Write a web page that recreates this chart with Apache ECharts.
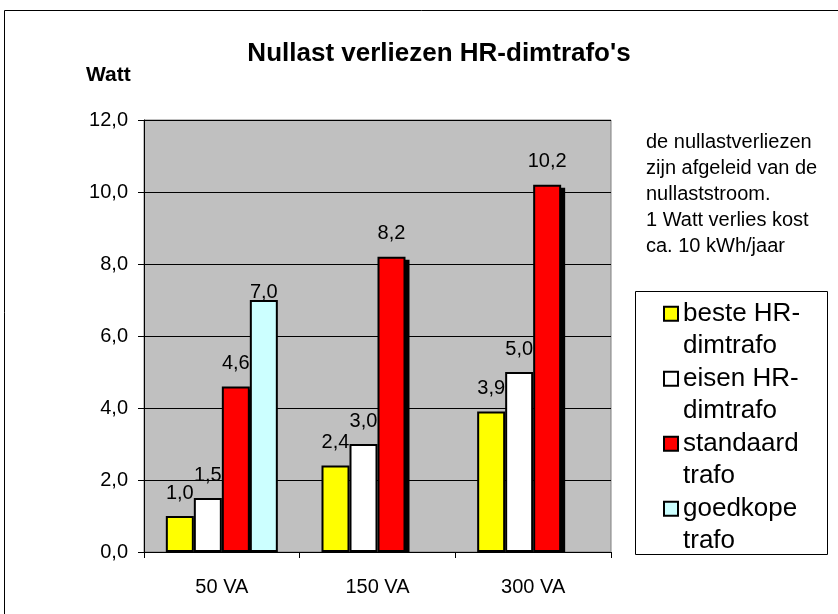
<!DOCTYPE html>
<html>
<head>
<meta charset="utf-8">
<script src="https://cdn.jsdelivr.net/npm/echarts@6/dist/echarts.min.js"></script>
<style>
html,body{margin:0;padding:0;background:#fff;}
#chart{width:838px;height:614px;}
</style>
</head>
<body>
<div id="chart"></div>
<script>
// ---- data ----
const categories = ['50 VA', '150 VA', '300 VA'];
const seriesNames = ['beste HR-dimtrafo', 'eisen HR-dimtrafo', 'standaard trafo', 'goedkope trafo'];
const legendLabels = ['beste HR-\ndimtrafo', 'eisen HR-\ndimtrafo', 'standaard\ntrafo', 'goedkope\ntrafo'];
const besteHR = [1.0, 2.4, 3.9];
const eisenHR = [1.5, 3.0, 5.0];
const standaard = [4.6, 8.2, 10.2];
const goedkope = [7.0, null, null];
const yMin = 0, yMax = 12, yStep = 2;
const titleText = "Nullast verliezen HR-dimtrafo's";
const yAxisTitle = 'Watt';
const noteLines = ['de nullastverliezen', 'zijn afgeleid van de', 'nullaststroom.', '1 Watt verlies kost', 'ca. 10 kWh/jaar'];

// ---- styling ----
const colors = ['#ffff00', '#ffffff', '#ff0000', '#ccffff'];
const fontFam = 'Liberation Sans, Arial, sans-serif';
const BAR_W = 28;
const fmt = v => (v == null ? '' : Number(v).toFixed(1).replace('.', ','));

const values = [besteHR, eisenHR, standaard, goedkope];
const barSeries = seriesNames.map((name, i) => ({
  name: name,
  type: 'bar',
  data: values[i],
  barWidth: BAR_W,
  barGap: '0%',
  itemStyle: {color: colors[i], borderColor: '#000', borderWidth: 2},
  label: {
    show: true,
    position: 'top',
    distance: i === 3 ? -2 : 13,
    color: '#000',
    fontFamily: fontFam,
    fontSize: 20,
    formatter: p => fmt(p.value)
  },
  emphasis: {disabled: true}
}));

// drop shadow behind the "standaard trafo" bars (3rd bar of each group)
const shadowSeries = {
  name: 'shadow',
  type: 'custom',
  silent: true,
  data: standaard.map((v, i) => [i, v]),
  renderItem: (params, api) => {
    const top = api.coord([api.value(0), api.value(1)]);
    const base = api.coord([api.value(0), 0]);
    return {
      type: 'rect',
      shape: {x: top[0] + 4, y: top[1] + 3, width: BAR_W, height: base[1] - top[1] - 3},
      style: {fill: '#000'}
    };
  }
};

const chart = echarts.init(document.getElementById('chart'), null, {renderer: 'canvas'});
chart.setOption({
  animation: false,
  backgroundColor: '#fff',
  title: [
    {
      text: titleText,
      left: 434, top: 36, textAlign: 'center',
      textStyle: {fontFamily: fontFam, fontSize: 26, fontWeight: 'bold', color: '#000'}
    },
    {
      text: yAxisTitle,
      left: 81, top: 60,
      textStyle: {fontFamily: fontFam, fontSize: 21, fontWeight: 'bold', color: '#000'}
    },
    {
      text: noteLines.join('\n'),
      left: 641, top: 124,
      textStyle: {fontFamily: fontFam, fontSize: 20, fontWeight: 'normal', lineHeight: 26, color: '#000'}
    }
  ],
  graphic: [
    {type: 'rect', shape: {x: 4.5, y: 10.5, width: 900, height: 700}, style: {fill: 'none', stroke: '#000', lineWidth: 1}, silent: true, z: -1},
    {type: 'rect', shape: {x: 635.5, y: 291.5, width: 192, height: 263}, style: {fill: '#fff', stroke: '#000', lineWidth: 1}, silent: true, z: 0}
  ],
  legend: {
    orient: 'vertical',
    left: 663, top: 265,
    padding: 0,
    itemGap: -32.5,
    itemWidth: 14, itemHeight: 14,
    icon: 'rect',
    itemStyle: {borderColor: '#000', borderWidth: 2},
    z: 5,
    textStyle: {fontFamily: fontFam, fontSize: 26, lineHeight: 32.5, color: '#000'},
    formatter: name => ' \n' + legendLabels[seriesNames.indexOf(name)],
    data: seriesNames
  },
  grid: {
    left: 144, right: 227, top: 120, bottom: 62,
    show: true, backgroundColor: '#c0c0c0', borderColor: '#808080', borderWidth: 1
  },
  xAxis: {
    type: 'category',
    data: categories,
    axisLine: {lineStyle: {color: '#000', width: 1}},
    axisTick: {show: true, length: 6, lineStyle: {color: '#000'}},
    axisLabel: {color: '#000', fontFamily: fontFam, fontSize: 20, margin: 25},
    splitLine: {show: false}
  },
  yAxis: {
    type: 'value',
    min: yMin, max: yMax, interval: yStep,
    axisLine: {show: true, lineStyle: {color: '#000', width: 1}},
    axisTick: {show: true, length: 6, lineStyle: {color: '#000'}},
    axisLabel: {color: '#000', fontFamily: fontFam, fontSize: 20, margin: 16, formatter: v => fmt(v)},
    splitLine: {show: true, lineStyle: {color: '#000', width: 1}}
  },
  series: [shadowSeries].concat(barSeries)
});
</script>
</body>
</html>
